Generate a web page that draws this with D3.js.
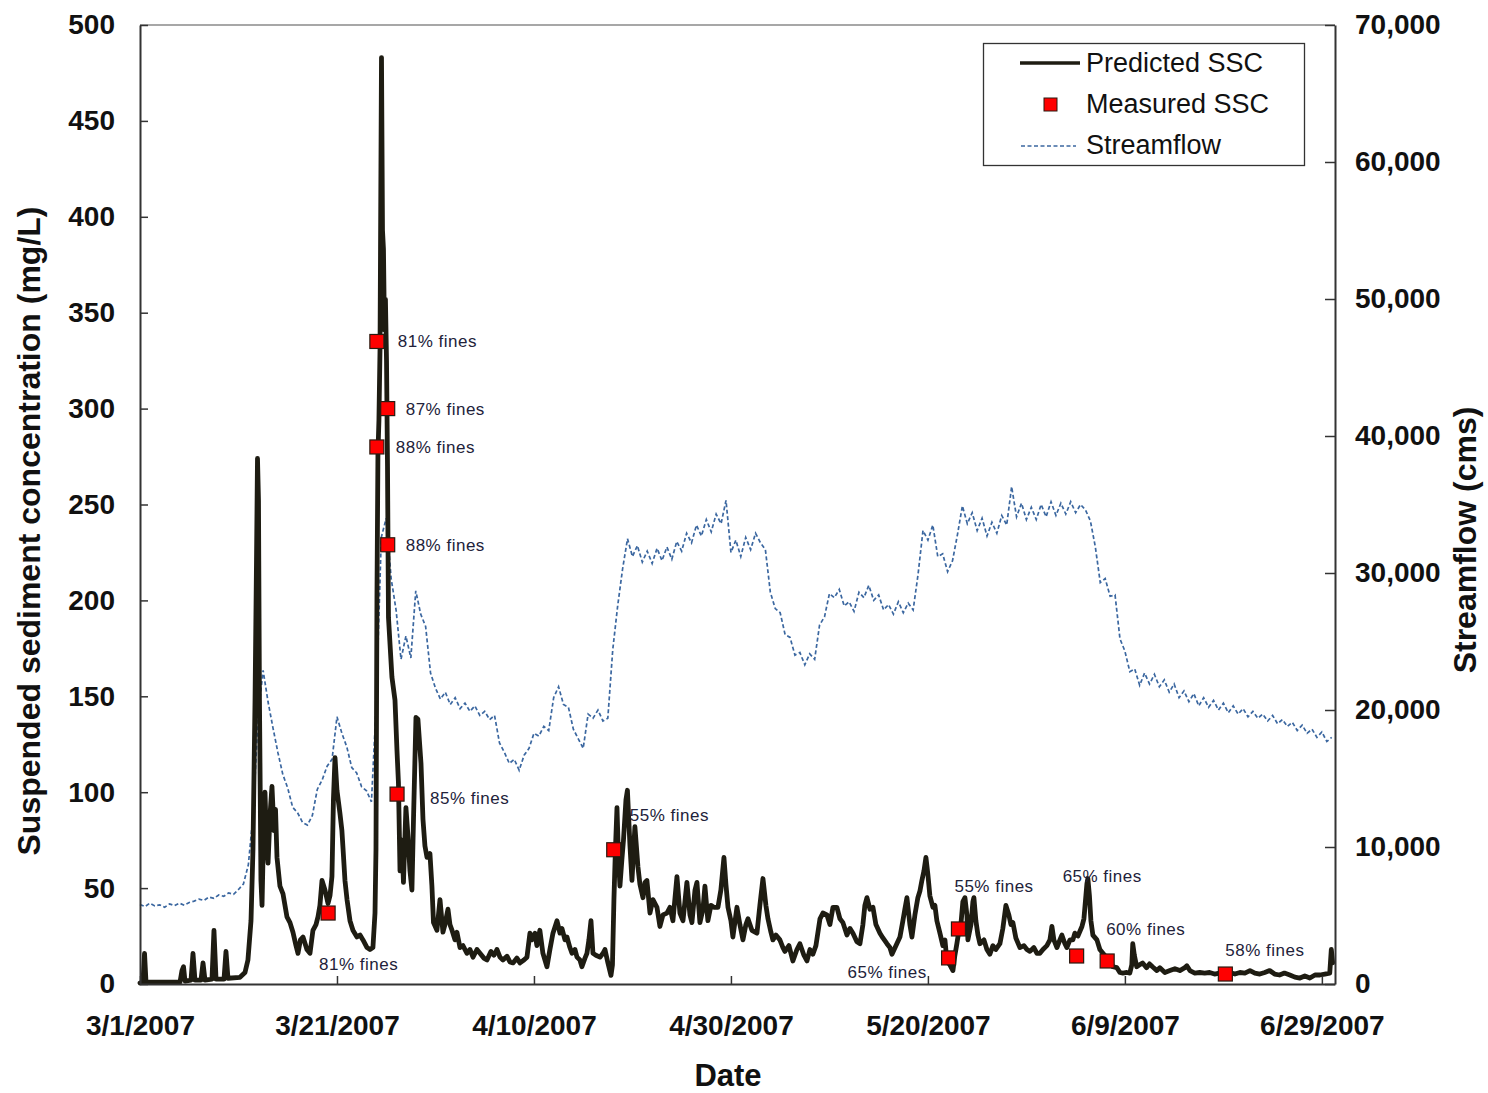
<!DOCTYPE html>
<html>
<head>
<meta charset="utf-8">
<script src="https://cdn.jsdelivr.net/npm/d3@7/dist/d3.min.js"></script>
<style>
  html, body { margin: 0; padding: 0; background: #fff; }
  svg { display: block; font-family: "Liberation Sans", Arial, sans-serif; }
</style>
</head>
<body>
<svg id="chart" width="1488" height="1093"></svg>
<script>
// ---- data -------------------------------------------------------------
// Predicted suspended sediment concentration (mg/L): day offset from 3/1/2007, value
const sscDays = [
  0, 0.3, 0.46, 0.61, 4.06, 4.26, 4.42, 4.57, 5.18, 5.38, 5.58, 6.19, 6.4, 6.6, 7.31, 7.51, 7.72, 8.53, 8.73, 8.93,
  10.15, 10.66, 10.96, 11.27, 11.47, 11.68, 11.83, 11.93, 12.03, 12.13, 12.28, 12.39, 12.59, 12.69, 12.84, 13.0, 13.2, 13.4, 13.6, 13.76,
  13.91, 14.21, 14.52, 14.92, 15.23, 15.53, 15.84, 16.04, 16.29, 16.55, 16.95, 17.26, 17.56, 17.87, 18.07, 18.27, 18.48, 18.78, 19.09, 19.29,
  19.49, 19.64, 19.8, 20.0, 20.3, 20.5, 20.61, 20.81, 21.02, 21.32, 21.62, 22.03, 22.34, 22.64, 23.05, 23.35, 23.65, 23.86, 23.96, 24.06,
  24.16, 24.26, 24.37, 24.52, 24.62, 24.72, 24.82, 24.92, 25.03, 25.13, 25.23, 25.58, 25.89, 26.09, 26.24, 26.4, 26.6, 26.75, 27.0, 27.21,
  27.41, 27.61, 27.77, 28.02, 28.22, 28.53, 28.73, 28.93, 29.14, 29.44, 29.64, 29.8, 30.15, 30.46, 30.76, 30.96, 31.27, 31.47, 31.68, 31.98,
  32.18, 32.49, 32.79, 33.2, 33.5, 33.81, 34.21, 34.52, 34.92, 35.23, 35.63, 35.94, 36.24, 36.55, 36.85, 37.26, 37.56, 37.87, 38.27, 38.58,
  38.98, 39.29, 39.59, 39.8, 40.1, 40.3, 40.6, 40.91, 41.32, 41.62, 41.93, 42.34, 42.64, 42.84, 43.15, 43.35, 43.65, 43.86, 44.16, 44.37,
  44.67, 44.87, 45.18, 45.38, 45.58, 45.79, 45.99, 46.29, 46.7, 47.01, 47.21, 47.51, 47.82, 47.97, 48.12, 48.27, 48.43, 48.58, 48.73, 48.93,
  49.09, 49.34, 49.49, 49.75, 49.95, 50.25, 50.56, 50.76, 51.07, 51.27, 51.47, 51.78, 52.08, 52.49, 52.79, 53.1, 53.5, 53.81, 54.11, 54.52,
  54.82, 55.13, 55.53, 55.84, 56.04, 56.35, 56.55, 56.85, 57.16, 57.36, 57.66, 57.97, 58.27, 58.68, 58.98, 59.29, 59.49, 59.7, 60.0, 60.2,
  60.61, 60.91, 61.22, 61.52, 61.73, 62.13, 62.64, 62.94, 63.25, 63.55, 63.76, 64.06, 64.26, 64.57, 64.97, 65.28, 65.48, 65.89, 66.29, 66.7,
  67.0, 67.41, 67.72, 68.02, 68.32, 68.63, 69.04, 69.34, 69.75, 70.05, 70.36, 70.76, 71.07, 71.37, 71.78, 72.08, 72.39, 72.79, 73.1, 73.4,
  73.6, 73.81, 74.11, 74.42, 74.72, 75.13, 75.43, 75.84, 76.14, 76.35, 76.75, 77.16, 77.46, 77.66, 77.87, 78.17, 78.38, 78.68, 78.98, 79.19,
  79.39, 79.6, 79.8, 80.0, 80.2, 80.51, 80.71, 80.91, 81.22, 81.52, 81.73, 81.93, 82.23, 82.54, 82.74, 82.94, 83.15, 83.35, 83.55, 83.76,
  83.96, 84.06, 84.37, 84.57, 84.67, 84.87, 85.08, 85.28, 85.69, 85.99, 86.29, 86.6, 86.9, 87.31, 87.61, 87.92, 88.22, 88.43, 88.63, 88.93,
  89.34, 89.75, 90.05, 90.36, 90.76, 91.07, 91.37, 91.68, 92.08, 92.39, 92.59, 92.79, 93.1, 93.4, 93.6, 93.91, 94.11, 94.42, 94.72, 94.92,
  95.23, 95.64, 95.84, 95.94, 96.14, 96.24, 96.4, 96.55, 96.75, 97.16, 97.46, 97.77, 98.17, 98.48, 98.78, 99.19, 99.49, 99.8, 100.2, 100.5,
  100.7, 100.8, 100.96, 101.2, 101.5, 101.8, 102.2, 102.5, 102.8, 103.25, 103.55, 104.06, 104.57, 105.08, 105.58, 106.09, 106.29, 106.6, 107.1, 107.6,
  108.1, 108.6, 109.1, 109.6, 110.15, 110.66, 111.17, 111.68, 112.18, 112.7, 113.2, 113.7, 114.2, 114.7, 115.2, 115.7, 116.2, 116.75, 117.26, 117.77,
  118.27, 118.78, 119.3, 119.8, 120.3, 120.8, 120.96, 121.1
];
const sscValues = [
  0.5, 1, 16, 1, 1, 7, 9, 1.5, 2, 16, 2, 2, 11, 2, 2.5, 28, 2.5, 2.5, 17, 3,
  3.5, 6, 12.5, 33, 70, 148, 221, 274, 252, 148, 54, 41, 91, 100, 75, 63, 88, 103, 80, 91,
  66, 51, 47, 35, 32, 27, 20, 16, 23, 24.5, 18, 16, 28, 31, 35, 41, 54, 49, 42, 46,
  56, 96, 118, 101, 89, 80, 71, 54, 44, 33, 28, 24.5, 25.5, 23, 19, 18, 19, 37, 70, 202,
  277, 294, 331, 483, 393, 383, 341, 357, 325, 270, 191, 160, 148, 122, 105, 59, 75, 53, 92, 77,
  59, 49, 86, 139, 138, 115, 86, 72, 66, 68, 51, 32, 28, 44, 27, 31, 39, 31, 28, 23,
  27, 19, 20, 16, 18, 14, 18, 16, 13.5, 12.5, 17, 15, 18, 14, 12.5, 14.5, 11.5, 11, 13.5, 11,
  12.5, 14, 26.5, 23, 26.5, 20, 28, 16, 9, 18, 26.5, 33, 26.5, 29, 23, 24.5, 19, 16, 18, 14,
  12.5, 9, 13.5, 16, 23, 33, 16, 15, 14, 16, 18, 11, 4.5, 10, 44, 70, 92, 66, 51, 65,
  75, 96, 101, 72, 54, 82, 61, 52, 45, 53, 54, 37, 44, 40, 30, 36, 37, 40, 33, 56,
  37, 33, 53, 36, 32, 49, 53, 32, 39, 51, 33, 41, 40, 40, 49, 66, 52, 40, 33, 24.5,
  40, 31, 23, 31, 34, 28, 26.5, 41, 55, 41, 34, 27, 23, 25.5, 23, 19, 17, 20, 12, 18,
  21, 15, 12, 18, 15.5, 20, 34, 37, 36, 31, 40, 40, 34, 32, 25.5, 29, 26.5, 22, 21, 31,
  41, 45, 39, 40, 31, 26.5, 24, 21, 19, 15.5, 20, 24.5, 33, 39, 45, 31, 24.5, 36, 45, 48.5,
  54, 59, 66, 57, 46, 40, 41, 33, 26.5, 20, 23, 12, 10, 7, 15, 21, 28, 31, 43, 45,
  36, 23, 31, 43, 45, 33, 25.5, 21, 23, 18, 15.5, 20, 18, 21, 29, 41, 36, 31, 32, 24,
  19, 20, 18, 17, 19, 16, 16, 18, 20, 23, 30, 23, 19, 23, 25.5, 21, 19, 23, 23, 26.5,
  25, 30, 34, 40, 52, 55, 46, 33, 25.5, 23, 18, 16, 13.5, 12.5, 9, 8.5, 6, 5.7, 6, 5.7,
  10, 21, 15, 9, 10, 11, 8.5, 10.5, 9, 7, 8.5, 6, 7, 8, 7, 8.5, 9.5, 7, 5.7, 6,
  5.7, 6, 5.2, 5.7, 5.2, 6, 5.2, 6, 5.7, 7, 5.7, 5.2, 6, 7, 5.2, 4.7, 5.7, 4.7, 3.6, 3.1,
  4.2, 3.1, 4.7, 4.7, 5.2, 5.7, 18, 11
];

// Streamflow (cms), one reading every half day from 3/1/2007
const flowStepDays = 0.5;
const flowValues = [
  5800, 5650, 5900, 5700, 5780, 5600, 5850, 5720, 5900, 5750, 5950, 6050, 6200, 6100, 6350, 6250, 6500, 6400, 6650, 6550, 6900,
  7300, 8700, 12500, 19600, 22900, 20600, 18700, 16900, 15300, 14300, 12900, 12500, 11800, 11600, 12300, 14200, 14900, 15900, 16400, 19500,
  18300, 17300, 15800, 15400, 14400, 14100, 13300,
  20700, 32600, 34000, 29600, 27300, 23700, 25400, 23800, 28700, 27000, 26100, 22700, 21600, 20800, 21300, 20400, 20900, 20100, 20500, 19900,
  20300, 19600, 19900, 19300, 19600,
  17600, 16900, 16100, 16400, 15600, 16700, 17200, 18300, 18100, 18800, 18500, 20900, 21700, 20400, 20200, 18600, 17900, 17200, 19700, 19400,
  20000, 19200, 19400,
  24400, 27600, 30300, 32500, 31200, 32000, 30800, 31600, 30700, 31800, 30900, 31900, 31000, 32300, 31600, 32900, 32200, 33500, 32700, 33900,
  33000, 34300, 33600, 35300, 31500, 32400, 31200, 32600, 31700, 32900, 32200, 31700,
  28600, 27400, 27100, 25500, 25300, 24000, 24200, 23300, 24100, 23700, 26200, 26800, 28500, 28200, 28800, 27600, 27900, 27200, 28600, 28200,
  29100, 28000, 28400, 27300, 27700, 27000, 27900, 27100, 27800, 27300,
  29900, 33100, 32400, 33500, 31200, 31400, 30100, 30900, 32800, 34900, 33600, 34400, 33100, 34000, 32700, 33700, 32900, 34200, 33500, 36300,
  34100, 35100, 33900, 34800, 33900, 35000, 34100, 35200, 34200, 35100, 34300, 35200, 34400, 35000, 34600,
  33800, 31900, 29300, 29600, 28300, 28400, 25200, 24300, 22800, 23000, 21800, 22700, 21900, 22600, 21700, 22200, 21300, 21900, 20900, 21400,
  20600, 21200, 20300, 20900, 20200, 20700, 20000, 20500, 19800, 20300, 19700, 20100, 19500, 19900, 19400, 19700, 19200, 19600, 19000, 19300,
  18800, 19100, 18500, 18900, 18300, 18600, 18000, 18400, 17700, 18000
];

// Measured SSC samples with their fines fraction
const measuredDays   = [19.1, 24.05, 25.15, 24.05, 25.15, 26.1, 48.1, 82.1, 83.1, 95.1, 98.2, 110.2];
const measuredValues = [37, 335, 300, 280, 229, 99, 70, 13.6, 28.7, 14.6, 12, 5.2];
const measuredLabels = ["81% fines", "81% fines", "87% fines", "88% fines", "88% fines", "85% fines",
                        "55% fines", "65% fines", "55% fines", "65% fines", "60% fines", "58% fines"];
// where each label sits relative to its marker (px)
const labelOffsets = [[-9, 57], [21, 6], [18, 6], [19, 6], [18, 6], [33, 10],
                      [16, -29], [-101, 20], [-4, -37], [-14, -74], [-1, -26], [0, -18]];

const sscTicks  = d3.range(0, 501, 50);
const flowTicks = d3.range(0, 70001, 10000);
const dateTicks = ["2007-03-01", "2007-03-21", "2007-04-10", "2007-04-30", "2007-05-20", "2007-06-09", "2007-06-29"];

// ---- layout -------------------------------------------------------------
const plot = { left: 140, right: 1335, top: 25, bottom: 984 };
const start = Date.UTC(2007, 2, 1);
const DAY = 864e5;
const toDate = d => new Date(start + d * DAY);

const svg = d3.select("#chart");
svg.append("rect").attr("width", 1488).attr("height", 1093).attr("fill", "#fff");

const x = d3.scaleUtc()
  .domain([new Date(start), new Date(Date.UTC(2007, 5, 30, 8))])
  .range([plot.left, plot.right]);
const yL = d3.scaleLinear().domain([0, 500]).range([plot.bottom, plot.top]);
const yR = d3.scaleLinear().domain([0, 70000]).range([plot.bottom, plot.top]);

const ink = "#1e1c12";
const flowBlue = "#3b67a0";

// top frame line
svg.append("line")
  .attr("x1", plot.left).attr("x2", plot.right)
  .attr("y1", plot.top).attr("y2", plot.top)
  .attr("stroke", "#8a8a8a").attr("stroke-width", 1.5);

// streamflow (right axis)
const flowLine = d3.line()
  .x((v, i) => x(toDate(i * flowStepDays)))
  .y(v => yR(v));
svg.append("path")
  .datum(flowValues)
  .attr("d", flowLine)
  .attr("fill", "none")
  .attr("stroke", flowBlue)
  .attr("stroke-width", 1.7)
  .attr("stroke-dasharray", "4,2.5");

// predicted SSC (left axis)
const sscLine = d3.line()
  .x((d, i) => x(toDate(sscDays[i])))
  .y(d => yL(d));
svg.append("path")
  .datum(sscValues)
  .attr("d", sscLine)
  .attr("fill", "none")
  .attr("stroke", ink)
  .attr("stroke-width", 4.8)
  .attr("stroke-linejoin", "round")
  .attr("stroke-linecap", "round");

// axes
const tickFont = g => g.selectAll("text")
  .attr("font-family", "Liberation Sans, Arial, sans-serif")
  .attr("font-weight", "bold")
  .attr("font-size", 28)
  .attr("fill", "#111");

const leftAxis = svg.append("g")
  .attr("transform", `translate(${plot.left},0)`)
  .call(d3.axisLeft(yL).tickValues(sscTicks).tickSizeInner(-8).tickSizeOuter(0).tickPadding(25));
leftAxis.call(tickFont);

const rightAxis = svg.append("g")
  .attr("transform", `translate(${plot.right},0)`)
  .call(d3.axisRight(yR).tickValues(flowTicks).tickSizeInner(-10).tickSizeOuter(0)
        .tickPadding(20).tickFormat(d3.format(",")));
rightAxis.call(tickFont);

const bottomAxis = svg.append("g")
  .attr("transform", `translate(0,${plot.bottom})`)
  .call(d3.axisBottom(x).tickValues(dateTicks.map(s => new Date(s + "T00:00:00Z")))
        .tickSizeInner(-8).tickSizeOuter(0).tickPadding(31).tickFormat(d3.utcFormat("%-m/%-d/%Y")));
bottomAxis.call(tickFont);

[leftAxis, rightAxis, bottomAxis].forEach(g => {
  g.select(".domain").attr("stroke", "#333").attr("stroke-width", 2);
  g.selectAll(".tick line").attr("stroke", "#333").attr("stroke-width", 1.5);
});

// axis titles
svg.append("text")
  .attr("transform", "translate(40,531) rotate(-90)")
  .attr("text-anchor", "middle")
  .attr("font-weight", "bold").attr("font-size", 32).attr("fill", "#111")
  .text("Suspended sediment concentration (mg/L)");
svg.append("text")
  .attr("transform", "translate(1476,540) rotate(-90)")
  .attr("text-anchor", "middle")
  .attr("font-weight", "bold").attr("font-size", 32).attr("fill", "#111")
  .text("Streamflow (cms)");
svg.append("text")
  .attr("x", 728).attr("y", 1086)
  .attr("text-anchor", "middle")
  .attr("font-weight", "bold").attr("font-size", 31).attr("fill", "#111")
  .text("Date");

// measured samples
const meas = measuredDays.map((d, i) => ({
  x: x(toDate(d)), y: yL(measuredValues[i]), label: measuredLabels[i], off: labelOffsets[i]
}));
svg.append("g").selectAll("rect")
  .data(meas).join("rect")
  .attr("x", d => d.x - 7).attr("y", d => d.y - 7)
  .attr("width", 14).attr("height", 14)
  .attr("fill", "#ff0000").attr("stroke", "#2a1a10").attr("stroke-width", 1.2);
svg.append("g").selectAll("text")
  .data(meas).join("text")
  .attr("x", d => d.x + d.off[0]).attr("y", d => d.y + d.off[1])
  .attr("font-size", 17).attr("letter-spacing", 0.5).attr("fill", "#22223a")
  .text(d => d.label);

// legend
const lg = svg.append("g");
lg.append("rect")
  .attr("x", 983.5).attr("y", 43.5).attr("width", 321).attr("height", 122)
  .attr("fill", "#fff").attr("stroke", "#333").attr("stroke-width", 1.3);
lg.append("line").attr("x1", 1020).attr("x2", 1080).attr("y1", 63).attr("y2", 63)
  .attr("stroke", ink).attr("stroke-width", 3.5);
lg.append("rect").attr("x", 1044).attr("y", 98).attr("width", 13).attr("height", 13)
  .attr("fill", "#ff0000").attr("stroke", "#2a1a10").attr("stroke-width", 1);
lg.append("line").attr("x1", 1021).attr("x2", 1076).attr("y1", 146).attr("y2", 146)
  .attr("stroke", flowBlue).attr("stroke-width", 1.4).attr("stroke-dasharray", "4,2.5");
[["Predicted SSC", 63], ["Measured SSC", 104], ["Streamflow", 145]].forEach(([t, yy]) => {
  lg.append("text").attr("x", 1086).attr("y", yy).attr("dy", "0.35em")
    .attr("font-size", 27).attr("fill", "#111").text(t);
});
</script>
</body>
</html>
